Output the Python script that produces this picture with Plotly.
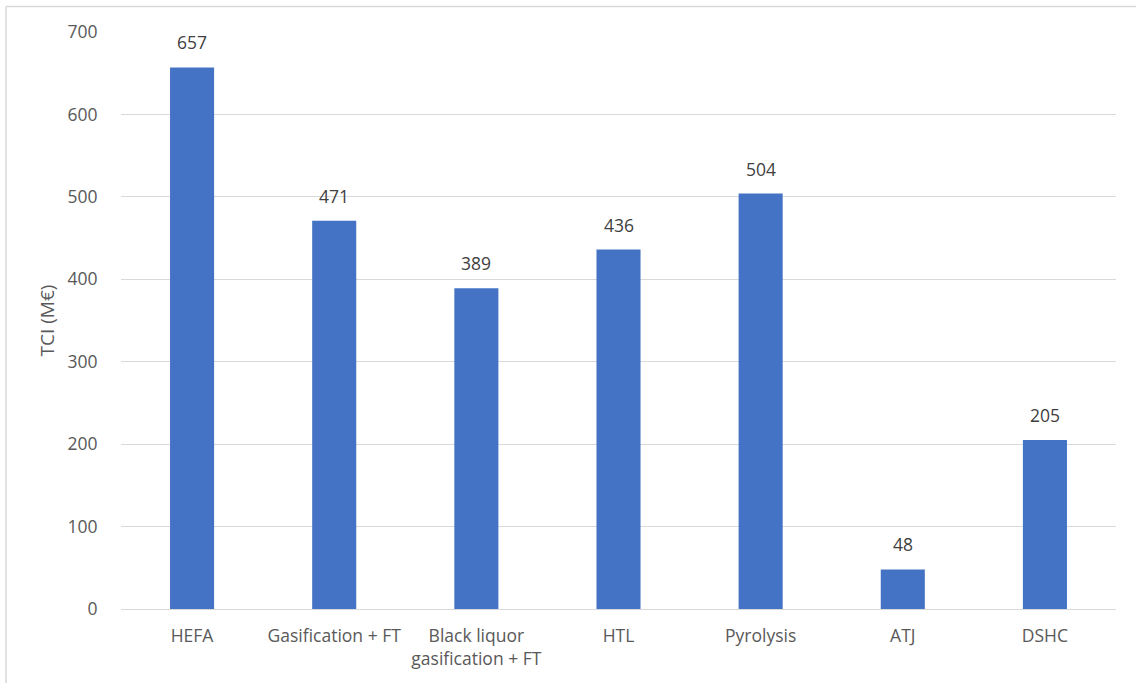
import plotly.graph_objects as go

categories = ["HEFA", "Gasification + FT", "Black liquor<br>gasification + FT", "HTL",
              "Pyrolysis", "ATJ", "DSHC"]
tci_values = [657, 471, 389, 436, 504, 48, 205]
y_ticks = [0, 100, 200, 300, 400, 500, 600, 700]

W, H = 1136, 683
L, R, T, B = 121, 20, 32, 74

FONT = "Open Sans, Noto Sans, sans-serif"
TXT = "#595959"
FS = 17.5

fig = go.Figure()
fig.add_trace(go.Bar(
    x=categories, y=tci_values,
    marker=dict(color="#4472C4", line=dict(width=0)),
    width=0.31,
    hoverinfo="x+y",
))

for c, v in zip(categories, tci_values):
    fig.add_annotation(x=c, y=v, text=str(v), showarrow=False,
                       yanchor="bottom", yshift=11,
                       font=dict(family=FONT, size=FS, color="#404040"))

pw = W - L - R
ph = H - T - B
# outer light border (left and top, as in the reference)
fig.add_shape(type="line", xref="paper", yref="paper",
              x0=(6 - L) / pw, x1=(W + 5 - L) / pw,
              y0=(H - B - 6.5) / ph, y1=(H - B - 6.5) / ph,
              line=dict(color="#D9D9D9", width=1.5))
fig.add_shape(type="line", xref="paper", yref="paper",
              x0=(6 - L) / pw, x1=(6 - L) / pw,
              y0=(H - B - 6.5) / ph, y1=(H - B - H - 5) / ph,
              line=dict(color="#D9D9D9", width=1.5))

fig.update_layout(
    width=W, height=H,
    margin=dict(l=L, r=R, t=T, b=B, pad=0),
    paper_bgcolor="white", plot_bgcolor="white",
    showlegend=False,
    font=dict(family=FONT, size=FS, color=TXT),
    bargap=0.69,
    xaxis=dict(
        tickfont=dict(family=FONT, size=FS, color=TXT),
        ticks="outside", ticklen=11, tickcolor="rgba(0,0,0,0)",
        showgrid=False, showline=False, zeroline=False,
        fixedrange=True,
    ),
    yaxis=dict(
        range=[0, 700],
        tickvals=y_ticks,
        tickfont=dict(family=FONT, size=FS, color=TXT),
        ticks="outside", ticklen=19, tickcolor="rgba(0,0,0,0)",
        showgrid=True, gridcolor="#D9D9D9", gridwidth=1.3,
        zeroline=True, zerolinecolor="#D9D9D9", zerolinewidth=1.3,
        showline=False,
        title=dict(text="TCI (M€)", font=dict(family=FONT, size=19, color=TXT), standoff=7),
        fixedrange=True,
    ),
)

fig.write_html("out.html")
